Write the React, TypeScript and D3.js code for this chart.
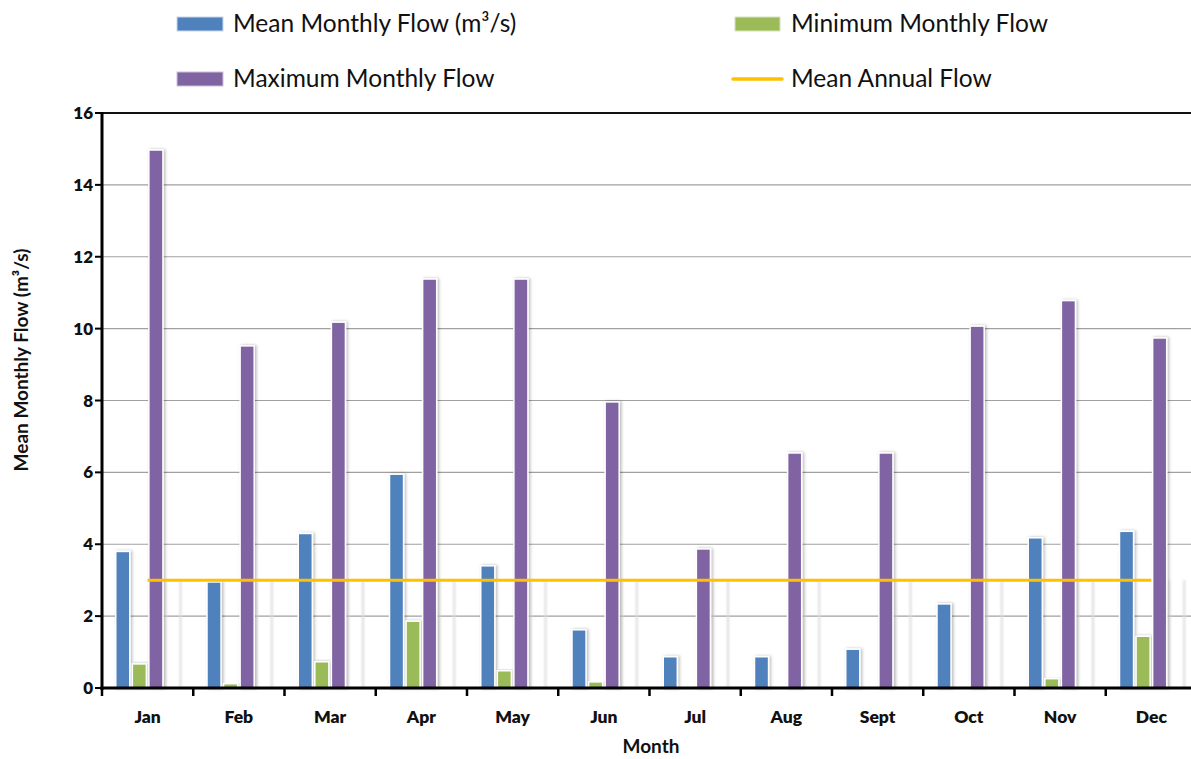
import React from "react";
import * as d3 from "d3";

const months = ["Jan", "Feb", "Mar", "Apr", "May", "Jun", "Jul", "Aug", "Sept", "Oct", "Nov", "Dec"];
const meanFlow = [3.8, 2.95, 4.3, 5.95, 3.4, 1.62, 0.87, 0.87, 1.08, 2.34, 4.18, 4.36];
const minFlow = [0.67, 0.12, 0.73, 1.86, 0.48, 0.17, 0, 0, 0, 0, 0.26, 1.44];
const maxFlow = [14.97, 9.52, 10.18, 11.38, 11.38, 7.96, 3.87, 6.54, 6.54, 10.07, 10.78, 9.74];
const meanAnnual = [3, 3, 3, 3, 3, 3, 3, 3, 3, 3, 3, 3];
const yTicks = [0, 2, 4, 6, 8, 10, 12, 14, 16];
const seriesKeys = ["mean", "min", "max", "ghost"];

const W = 1191;
const H = 759;
const left = 102;
const right = 1197;
const top = 113;
const bottom = 688;
const FONT = "Lato, 'Open Sans', sans-serif";

export default function App() {
  const x = d3.scaleBand<string>().domain(months).range([left, right]).paddingInner(0).paddingOuter(0);
  const inner = d3.scaleBand<string>().domain(seriesKeys).range([12.5, x.bandwidth() - 12.5]).padding(0);
  const y = d3.scaleLinear().domain([0, 16]).range([bottom, top]);
  const colors: Record<string, string> = { mean: "#4F81BD", min: "#9BBB59", max: "#8064A2" };
  const values: Record<string, number[]> = { mean: meanFlow, min: minFlow, max: maxFlow, ghost: meanAnnual };
  const bw = inner.bandwidth();
  const barW = bw - 2.5;

  const line = d3
    .line<number>()
    .x((_, i) => (x(months[i]) as number) + x.bandwidth() / 2)
    .y((d) => y(d));

  return (
    <svg width={W} height={H} style={{ position: "absolute", left: 0, top: 0, background: "#fff" }}>
      <defs>
        <filter id="sh" x="-50%" y="-10%" width="200%" height="120%">
          <feDropShadow dx="1.5" dy="0" stdDeviation="1.5" floodColor="#000" floodOpacity="0.28" />
        </filter>
        <filter id="gh" x="-50%" y="-10%" width="200%" height="120%">
          <feGaussianBlur stdDeviation="0.9" />
        </filter>
      </defs>
      <rect x={0} y={0} width={W} height={H} fill="#fff" />
      {/* gridlines */}
      {yTicks.slice(1, -1).map((t) => (
        <line key={t} x1={left} x2={W} y1={y(t)} y2={y(t)} stroke="#a0a0a0" strokeWidth={1.2} />
      ))}
      <line x1={left} x2={W} y1={y(16)} y2={y(16)} stroke="#111" strokeWidth={2} />
      {/* ghost bars */}
      {months.map((m, i) => {
        const bx = (x(m) as number) + (inner("ghost") as number) + 1.25;
        return (
          <g key={"g" + m} filter="url(#gh)">
            <line x1={bx} x2={bx} y1={y(values.ghost[i])} y2={bottom} stroke="#e8e8e8" strokeWidth={2} />
            <line x1={bx + barW + 1} x2={bx + barW + 1} y1={y(values.ghost[i])} y2={bottom} stroke="#dcdcdc" strokeWidth={2} />
          </g>
        );
      })}
      {/* bars */}
      {["mean", "min", "max"].map((k) =>
        months.map((m, i) => {
          const v = values[k][i];
          if (v <= 0) return null;
          const bx = (x(m) as number) + (inner(k) as number) + 1.25;
          return (
            <rect
              key={k + m}
              x={bx}
              y={y(v)}
              width={barW}
              height={bottom - y(v)}
              fill={colors[k]}
              stroke="#fff"
              strokeWidth={1.5}
              filter="url(#sh)"
            />
          );
        })
      )}
      {/* mean annual line */}
      <path d={line(meanAnnual) as string} fill="none" stroke="#FFC000" strokeWidth={3} />
      {/* axes */}
      <line x1={left} x2={left} y1={top - 1} y2={bottom + 2} stroke="#000" strokeWidth={3} />
      <line x1={left - 1.5} x2={W} y1={bottom} y2={bottom} stroke="#000" strokeWidth={3} />
      {yTicks.map((t) => (
        <g key={"yt" + t}>
          <line x1={left - 7} x2={left} y1={y(t)} y2={y(t)} stroke="#000" strokeWidth={2} />
          <text x={left - 9} y={y(t)} dy="0.36em" textAnchor="end" fontFamily={FONT} fontWeight={800} fontSize={17} fill="#111">
            {t}
          </text>
        </g>
      ))}
      {d3.range(months.length + 1).map((i) => {
        const tx = left + i * x.bandwidth();
        return <line key={"xt" + i} x1={tx} x2={tx} y1={bottom} y2={bottom + 8} stroke="#000" strokeWidth={2.5} />;
      })}
      {months.map((m) => (
        <text
          key={"xl" + m}
          x={(x(m) as number) + x.bandwidth() / 2}
          y={723}
          textAnchor="middle"
          fontFamily={FONT}
          fontWeight={800}
          fontSize={17.5}
          fill="#111"
        >
          {m}
        </text>
      ))}
      <text x={651} y={753} textAnchor="middle" fontFamily={FONT} fontWeight={700} fontSize={19} fill="#111">
        Month
      </text>
      <text
        transform={`translate(28,360) rotate(-90)`}
        textAnchor="middle"
        fontFamily={FONT}
        fontWeight={700}
        fontSize={19}
        fill="#111"
      >
        Mean Monthly Flow (m³/s)
      </text>
      {/* legend */}
      <rect x={177} y={17} width={46} height={14} fill="#4F81BD" stroke="#c8d6ea" strokeWidth={1} />
      <text x={233} y={32} fontFamily={FONT} fontSize={24.5} fill="#111">Mean Monthly Flow (m³/s)</text>
      <rect x={735} y={17} width={45} height={14} fill="#9BBB59" stroke="#d5e3bd" strokeWidth={1} />
      <text x={791} y={32} fontFamily={FONT} fontSize={24.5} fill="#111">Minimum Monthly Flow</text>
      <rect x={177} y={72} width={46} height={14} fill="#8064A2" stroke="#cbbfdb" strokeWidth={1} />
      <text x={233} y={87} fontFamily={FONT} fontSize={24.5} fill="#111">Maximum Monthly Flow</text>
      <line x1={733} x2={782} y1={79} y2={79} stroke="#FFC000" strokeWidth={3.5} strokeLinecap="round" />
      <text x={791} y={87} fontFamily={FONT} fontSize={24.5} fill="#111">Mean Annual Flow</text>
    </svg>
  );
}
